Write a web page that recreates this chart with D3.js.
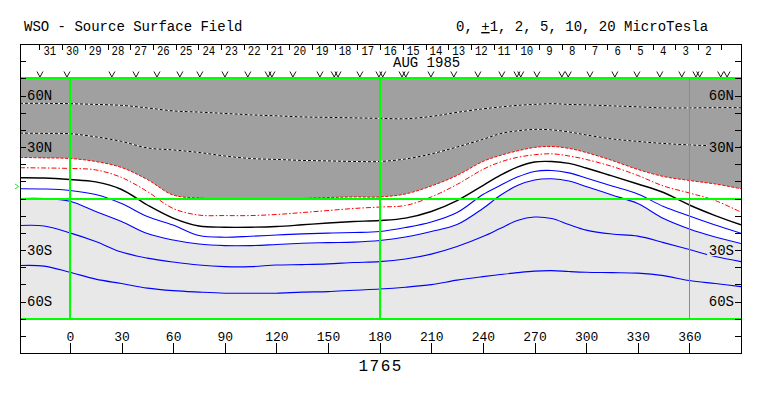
<!DOCTYPE html>
<html lang='en'>
<head>
<meta charset='UTF-8'>
<title>WSO - Source Surface Field</title>
<script src='https://d3js.org/d3.v7.min.js' charset='utf-8'></script>
<style>
    body { margin: 0; background: #fff; overflow: hidden; }
    text { font-family: 'Liberation Mono', 'Courier New', monospace; fill: #000; }
</style>
</head>
<body>
<svg id='chart' width='763' height='396'></svg>
<script>
'use strict';

// carrington longitude grid the contours were read on
const lons = [-29, -15, 0, 15, 30, 45, 60, 75, 90, 105, 120, 135, 150, 165, 180, 195, 210,
    225, 240, 250, 260, 270, 280, 290, 300, 315, 330, 345, 360, 375, 390];

// contour positions in sine latitude, one array per level (microtesla)
const posTen = [0.792, 0.792, 0.789, 0.783, 0.775, 0.754, 0.729, 0.719, 0.708, 0.696, 0.688, 0.679, 0.675, 0.671, 0.667, 0.664,
    0.683, 0.717, 0.746, 0.761, 0.775, 0.783, 0.789, 0.783, 0.779, 0.771, 0.763, 0.754, 0.754, 0.756, 0.756];
const posFive = [0.544, 0.542, 0.539, 0.513, 0.475, 0.421, 0.404, 0.383, 0.354, 0.333, 0.325, 0.317, 0.313, 0.308, 0.308, 0.329,
    0.371, 0.429, 0.492, 0.539, 0.563, 0.575, 0.571, 0.554, 0.529, 0.496, 0.475, 0.458, 0.446, 0.438, 0.433];
const posTwo = [0.342, 0.338, 0.333, 0.308, 0.258, 0.158, 0.029, 0.004, -0.004, -0.004, -0.004, 0.000, 0.008, 0.013, 0.013, 0.038,
    0.104, 0.192, 0.308, 0.358, 0.396, 0.425, 0.433, 0.417, 0.383, 0.317, 0.242, 0.183, 0.150, 0.121, 0.081];
const posOne = [0.256, 0.254, 0.250, 0.238, 0.175, 0.058, -0.083, -0.138, -0.142, -0.142, -0.133, -0.117, -0.100, -0.083, -0.071, -0.058,
    0.013, 0.117, 0.242, 0.303, 0.342, 0.364, 0.372, 0.354, 0.325, 0.267, 0.192, 0.104, 0.046, -0.017, -0.114];
const neutral = [0.173, 0.171, 0.158, 0.138, 0.075, -0.054, -0.163, -0.229, -0.239, -0.239, -0.233, -0.219, -0.204, -0.192, -0.183, -0.163,
    -0.108, -0.017, 0.108, 0.192, 0.261, 0.304, 0.308, 0.292, 0.254, 0.188, 0.121, 0.050, -0.054, -0.142, -0.219];
const negOne = [0.081, 0.079, 0.067, 0.033, -0.042, -0.150, -0.221, -0.308, -0.322, -0.314, -0.304, -0.294, -0.288, -0.283, -0.275, -0.242,
    -0.196, -0.117, 0.033, 0.108, 0.178, 0.225, 0.233, 0.213, 0.171, 0.104, 0.038, -0.067, -0.146, -0.221, -0.289];
const negTwo = [0.000, 0.000, -0.023, -0.108, -0.192, -0.292, -0.346, -0.379, -0.392, -0.392, -0.383, -0.373, -0.367, -0.363, -0.350, -0.321,
    -0.275, -0.217, -0.083, 0.025, 0.108, 0.154, 0.164, 0.146, 0.100, 0.029, -0.042, -0.167, -0.254, -0.321, -0.375];
const negFive = [-0.225, -0.229, -0.286, -0.358, -0.446, -0.496, -0.529, -0.554, -0.567, -0.567, -0.554, -0.550, -0.544, -0.533, -0.525, -0.503,
    -0.463, -0.400, -0.317, -0.250, -0.183, -0.154, -0.167, -0.217, -0.263, -0.296, -0.313, -0.367, -0.425, -0.483, -0.525];
const negTen = [-0.558, -0.563, -0.614, -0.671, -0.708, -0.746, -0.767, -0.779, -0.788, -0.789, -0.788, -0.779, -0.775, -0.763, -0.753, -0.738,
    -0.717, -0.679, -0.650, -0.633, -0.617, -0.604, -0.600, -0.608, -0.614, -0.617, -0.621, -0.642, -0.683, -0.708, -0.733];

const lonTicks = [0, 30, 60, 90, 120, 150, 180, 210, 240, 270, 300, 330, 360];
const latTicks = [6 / 7, 3 / 7, -3 / 7, -6 / 7];
const latLabels = ['60N', '30N', '30S', '60S'];

// days of AUG 1985, in the order they run along the top strip
const days = [31, 30, 29, 28, 27, 26, 25, 24, 23, 22, 21, 20, 19, 18, 17, 16, 15, 14, 13, 12, 11, 10, 9, 8, 7, 6, 5, 4, 3, 2];
const firstDayLon = -17.7;
const degPerDay = 13.2;

// observation marks (longitude of every "v")
const obsLons = [-17.4, -1.7, 24.4, 38.4, 50.6, 63.9, 75.5, 90.1, 103.4, 115.2, 117.4, 129.6, 145.3, 153.6, 155.8,
    168.5, 179.6, 181.8, 193.0, 195.2, 209.8, 223.1, 237.1, 251.0, 259.8, 262.0, 271.4, 285.9, 289.6,
    302.2, 316.7, 329.5, 342.8, 355.6, 363.8, 366.0, 378.2, 381.9];
const b0 = 0.1;

const frame = { left: 20, right: 741, top: 44, bottom: 353 };

const svg = d3.select('#chart');

const x = d3.scaleLinear().domain([-29, 390]).range([frame.left, frame.right]);
const y = d3.scaleLinear().domain([-9 / 7, 9 / 7]).range([frame.bottom, frame.top]);

const curve = d3.curveCatmullRom.alpha(0.5);
const pts = v => lons.map((l, i) => [l, v[i]]);
const line = d3.line().x(d => x(d[0])).y(d => y(d[1])).curve(curve);

svg.append('clipPath').attr('id', 'plot')
    .append('rect')
    .attr('x', x(-29)).attr('y', y(1))
    .attr('width', x(390) - x(-29)).attr('height', y(-1) - y(1));

const g = svg.append('g').attr('clip-path', 'url(#plot)');

// shading
g.append('path')
    .datum(pts(posTwo))
    .attr('d', d3.area().x(d => x(d[0])).y0(y(1.05)).y1(d => y(d[1])).curve(curve))
    .attr('fill', '#a0a0a0');
g.append('path')
    .datum(pts(negTwo))
    .attr('d', d3.area().x(d => x(d[0])).y0(y(-1.05)).y1(d => y(d[1])).curve(curve))
    .attr('fill', '#e8e8e8');

// contours
const contours = [
    { v: posTen, color: '#000', dash: '3,2', halo: true, w: 1 },
    { v: posFive, color: '#000', dash: '3,2', halo: true, w: 1 },
    { v: posTwo, color: '#ff0000', dash: '3,1.5', w: 1 },
    { v: posOne, color: '#ff0000', dash: '5,2,1.5,2', w: 1 },
    { v: neutral, color: '#000', dash: null, w: 1.4 },
    { v: negOne, color: '#0000ff', dash: null, w: 1.1 },
    { v: negTwo, color: '#0000ff', dash: null, w: 1.1 },
    { v: negFive, color: '#0000ff', dash: null, w: 1.1 },
    { v: negTen, color: '#0000ff', dash: null, w: 1.1 },
];

contours.forEach(c => {
    if (c.halo) {
        g.append('path').datum(pts(c.v)).attr('d', line)
            .attr('fill', 'none').attr('stroke', '#fff').attr('stroke-width', 1);
    }
    g.append('path').datum(pts(c.v)).attr('d', line)
        .attr('fill', 'none')
        .attr('stroke', c.color)
        .attr('stroke-width', c.w)
        .attr('stroke-dasharray', c.dash);
});

// green reference lines
const green = svg.append('g').attr('shape-rendering', 'crispEdges');
[1, 0, -1].forEach(s => {
    green.append('line')
        .attr('x1', x(-29)).attr('x2', x(390))
        .attr('y1', Math.round(y(s))).attr('y2', Math.round(y(s)))
        .attr('stroke', '#00ff00')
        .attr('stroke-width', 1.5);
});
[0, 180, 360].forEach(l => {
    const xx = Math.round(x(l));
    green.append('line')
        .attr('x1', xx).attr('x2', xx)
        .attr('y1', y(1)).attr('y2', y(-1))
        .attr('stroke-width', l === 360 ? 1 : 2)
        .attr('stroke', l === 360 ? '#40c040' : '#00ff00');
});

// latitude labels with their boxes
function latLabel(side) {
    latTicks.forEach((s, i) => {
        const yy = y(s);
        const bx = side === 'left' ? frame.left + 1 : frame.right - 34;
        svg.append('rect')
            .attr('x', bx).attr('y', yy - 6)
            .attr('width', 33).attr('height', 12)
            .attr('fill', s > 0 ? '#a0a0a0' : '#e8e8e8');
        svg.append('text')
            .attr('x', side === 'left' ? frame.left + 7 : frame.right - 7)
            .attr('y', yy + 4.5)
            .attr('text-anchor', side === 'left' ? 'start' : 'end')
            .style('font-size', '14px')
            .text(latLabels[i]);
    });
}
latLabel('left');
latLabel('right');

// side ticks
const sideTicks = d3.range(-8, 9).map(k => k / 7);
svg.append('g')
    .attr('transform', `translate(${frame.left},0)`)
    .call(d3.axisRight(y).tickValues(sideTicks).tickSize(6).tickFormat(''))
    .call(a => a.select('.domain').remove());
svg.append('g')
    .attr('transform', `translate(${frame.right},0)`)
    .call(d3.axisLeft(y).tickValues(sideTicks).tickSize(6).tickFormat(''))
    .call(a => a.select('.domain').remove());

// longitude axis
const xa = svg.append('g')
    .attr('transform', `translate(0,${frame.bottom})`)
    .call(d3.axisTop(x).tickValues(lonTicks).tickSize(10).tickPadding(2))
    .call(a => a.select('.domain').remove());
xa.selectAll('text').style('font-size', '13px').style('font-family', "'Liberation Mono', monospace");
svg.selectAll('.tick line').attr('stroke', '#000').attr('shape-rendering', 'crispEdges');

// frame
svg.append('rect')
    .attr('x', frame.left + 0.5).attr('y', frame.top + 0.5)
    .attr('width', frame.right - frame.left).attr('height', frame.bottom - frame.top)
    .attr('fill', 'none').attr('stroke', '#000').attr('stroke-width', 1.2)
    .attr('shape-rendering', 'crispEdges');

// day strip
const dayG = svg.append('g');
d3.range(days.length + 1).forEach(i => {
    const xx = Math.round(x(firstDayLon + i * degPerDay)) + 0.5;
    dayG.append('line')
        .attr('x1', xx).attr('x2', xx)
        .attr('y1', frame.top).attr('y2', frame.top + 6)
        .attr('stroke', '#000');
});
days.forEach((d, i) => {
    dayG.append('text')
        .attr('x', x(firstDayLon + (i + 0.5) * degPerDay) - 1)
        .attr('y', 55)
        .attr('text-anchor', 'middle')
        .style('font-size', '13.5px')
        .attr('textLength', String(d).length * 6.4)
        .attr('lengthAdjust', 'spacingAndGlyphs')
        .text(d);
});
svg.append('text').attr('x', 393).attr('y', 67).style('font-size', '14px').text('AUG 1985');

svg.append('g').selectAll('path')
    .data(obsLons)
    .join('path')
    .attr('d', l => `M${x(l) - 3},71.5L${x(l)},77L${x(l) + 3},71.5`)
    .attr('fill', 'none')
    .attr('stroke', '#000')
    .attr('stroke-width', 0.9);

// b0 marker
svg.append('path')
    .attr('d', `M15,${y(b0) - 2.5}L18.5,${y(b0)}L15,${y(b0) + 2.5}`)
    .attr('fill', 'none').attr('stroke', '#00ff00');

// titles
svg.append('text').attr('x', 24).attr('y', 31).style('font-size', '14px').text('WSO - Source Surface Field');
const unit = svg.append('text').attr('x', 456).attr('y', 31).style('font-size', '14px');
unit.append('tspan').text('0, ');
unit.append('tspan').style('text-decoration', 'underline').text('+');
unit.append('tspan').text('1, 2, 5, 10, 20 MicroTesla');

svg.append('text')
    .attr('x', x(180) + 1).attr('y', 371)
    .attr('text-anchor', 'middle')
    .style('font-size', '16px')
    .style('letter-spacing', '1.5px')
    .text('1765');
</script>
</body>
</html>
